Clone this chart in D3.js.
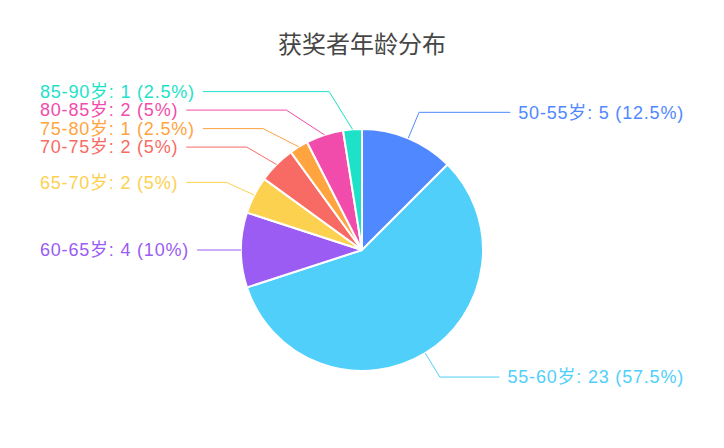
<!DOCTYPE html>
<html>
<head>
<meta charset="utf-8">
<script src="https://cdn.jsdelivr.net/npm/d3@7"></script>
<style>
  body { margin: 0; background: #fff; }
  svg { font-family: "Liberation Sans", "Noto Sans CJK SC", sans-serif; }
</style>
</head>
<body>
<script>
var ageGroups = ["50-55岁", "55-60岁", "60-65岁", "65-70岁", "70-75岁", "75-80岁", "80-85岁", "85-90岁"];
var counts = [5, 23, 4, 2, 2, 1, 2, 1];
var colors = ["#5088ff", "#50cffb", "#9a5cf2", "#fdd150", "#f86b65", "#ffa43f", "#f14cab", "#1de2c8"];

var width = 724, height = 448;
var cx = 362, cy = 250, r = 121;
var len1 = 28, gap = 8, edge = 40, minGap = 18.5;

var data = ageGroups.map(function(g, i) { return { name: g, value: counts[i], color: colors[i] }; });
var total = d3.sum(counts);

var svg = d3.select("body").append("svg")
  .attr("width", width)
  .attr("height", height);

svg.append("text")
  .attr("x", cx)
  .attr("y", 53)
  .attr("text-anchor", "middle")
  .attr("fill", "#464646")
  .attr("font-family", "Noto Sans CJK SC")
  .attr("font-size", 24)
  .text("获奖者年龄分布");

var pie = d3.pie().sort(null).value(function(d) { return d.value; });
var arcs = pie(data);
var arc = d3.arc().innerRadius(0).outerRadius(r);

var g = svg.append("g").attr("transform", "translate(" + cx + "," + cy + ")");

g.selectAll("path")
  .data(arcs)
  .enter()
  .append("path")
  .attr("d", arc)
  .attr("fill", function(d) { return d.data.color; })
  .attr("stroke", "#fff")
  .attr("stroke-width", 2)
  .attr("stroke-linejoin", "round");

// label positions
var labels = arcs.map(function(d) {
  var a = (d.startAngle + d.endAngle) / 2;
  var sx = Math.sin(a), sy = -Math.cos(a);
  return {
    d: d,
    ex: sx * r, ey: sy * r,
    x: sx * (r + len1), y: sy * (r + len1),
    dir: sx < -1e-6 ? -1 : 1
  };
});

[-1, 1].forEach(function(dir) {
  var side = labels.filter(function(l) { return l.dir === dir; })
    .sort(function(a, b) { return a.y - b.y; });
  var shifted = false;
  for (var it = 0; it < 200; it++) {
    for (var i = 0; i < side.length - 1; i++) {
      var o = minGap - (side[i + 1].y - side[i].y);
      if (o > 0.01) {
        side[i].y -= o / 2;
        side[i + 1].y += o / 2;
        shifted = true;
      }
    }
  }
  if (!shifted) return;
  var rA = r + len1;
  var top = side.filter(function(l) { return l.y <= 0; });
  var bot = side.filter(function(l) { return l.y > 0; });
  [top, bot].forEach(function(semi) {
    if (!semi.length) return;
    var rB = d3.max(semi, function(l) { return Math.abs(l.y); }) + 4;
    semi.forEach(function(l) {
      var k = 1 - (l.y * l.y) / (rB * rB);
      l.x = dir * Math.sqrt(Math.max(k, 0)) * rA;
    });
  });
});

var lg = g.selectAll("g.label")
  .data(labels)
  .enter()
  .append("g")
  .attr("class", "label");

var texts = lg.append("text")
  .attr("x", function(l) { return l.dir < 0 ? edge - cx : width - edge - cx; })
  .attr("y", function(l) { return l.y; })
  .attr("dy", "0.35em")
  .attr("text-anchor", function(l) { return l.dir < 0 ? "start" : "end"; })
  .attr("font-size", 18)
  .attr("letter-spacing", 0.8)
  .attr("fill", function(l) { return l.d.data.color; })
  .text(function(l) {
    var v = l.d.data.value;
    return l.d.data.name + ": " + v + " (" + d3.format(".3~")(v / total * 100) + "%)";
  });

texts.each(function(l) {
  var w = this.getBBox().width;
  l.lineEnd = l.dir < 0 ? edge - cx + w + gap : width - edge - cx - w - gap;
});

lg.insert("path", "text")
  .attr("fill", "none")
  .attr("stroke", function(l) { return l.d.data.color; })
  .attr("stroke-width", 1)
  .attr("d", function(l) {
    return d3.line()([[l.ex, l.ey], [l.x, l.y], [l.lineEnd, l.y]]);
  });
</script>
</body>
</html>
